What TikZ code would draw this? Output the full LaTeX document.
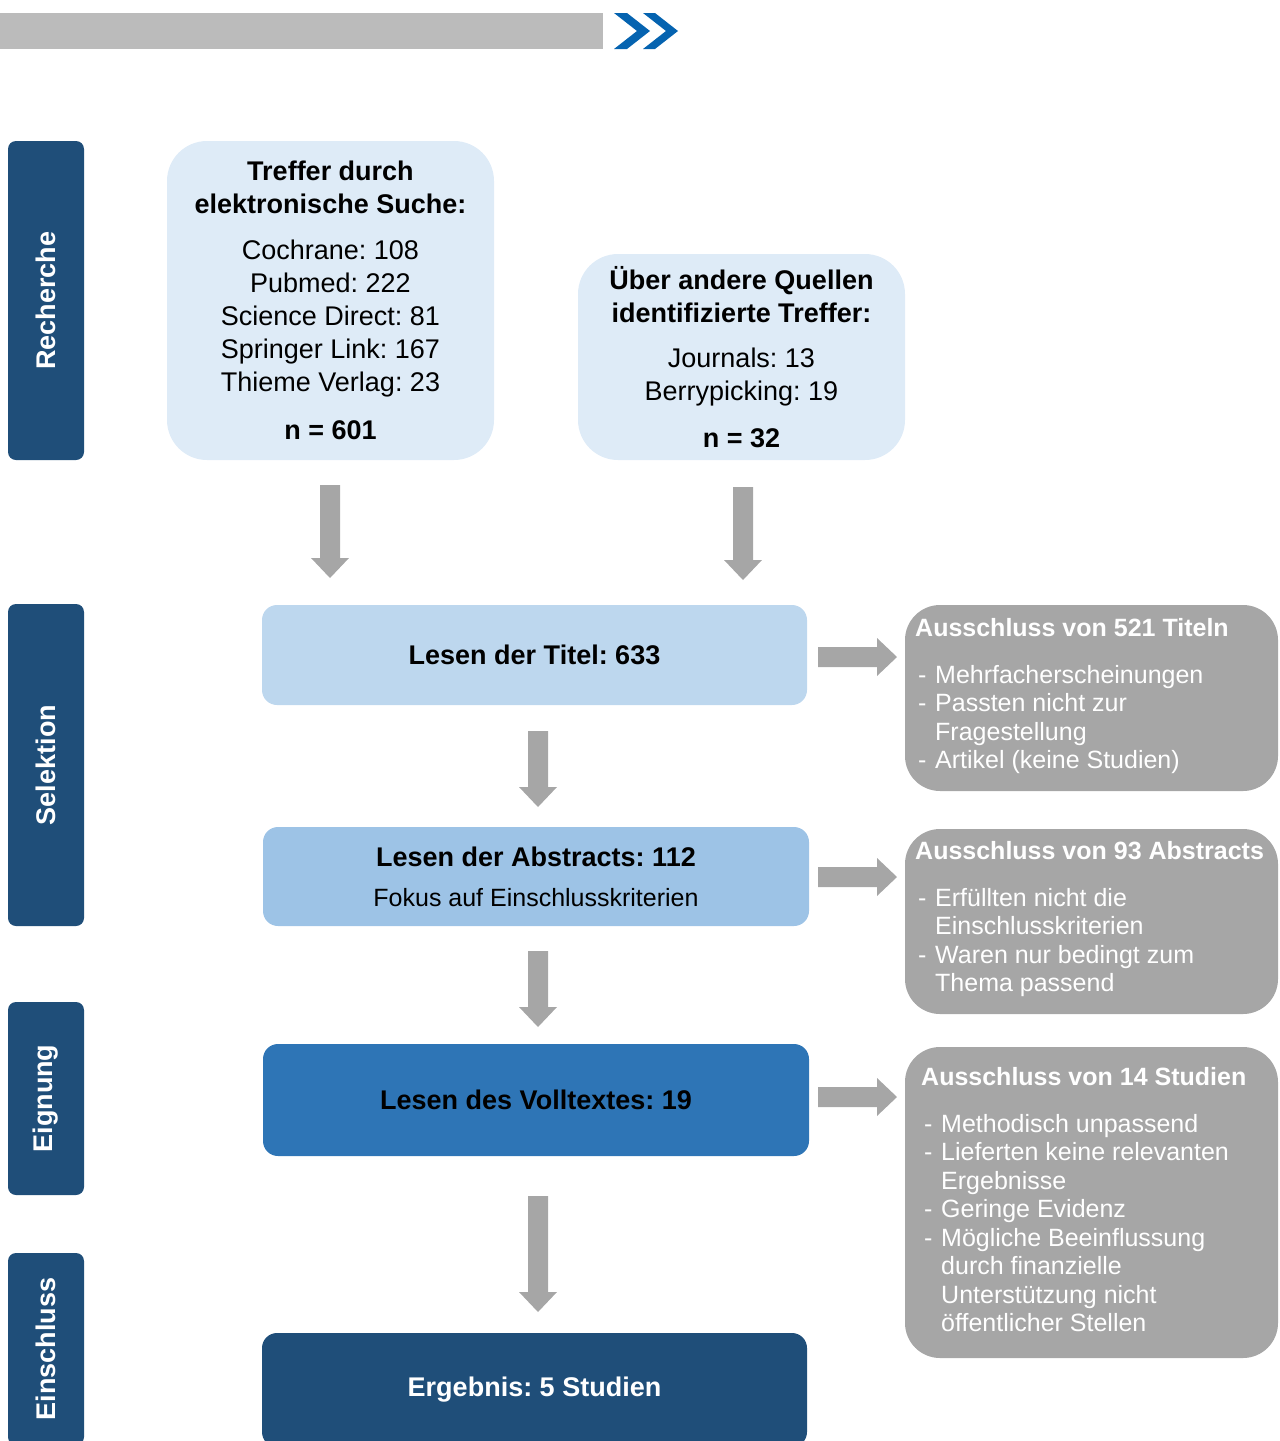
\documentclass[tikz,border=0pt]{standalone}
\usepackage{fontspec}
\setmainfont{Liberation Sans}
\frenchspacing
\usetikzlibrary{calc}
\definecolor{sidebar}{HTML}{1F4E79}
\definecolor{lightbox}{HTML}{DEEBF7}
\definecolor{titlebox}{HTML}{BDD7EE}
\definecolor{abstractbox}{HTML}{9DC3E6}
\definecolor{fullbox}{HTML}{2E75B6}
\definecolor{resultbox}{HTML}{1F4E79}
\definecolor{arrowgray}{HTML}{A6A6A6}
\definecolor{exclgray}{HTML}{A6A6A6}
\definecolor{topbar}{HTML}{BBBBBB}
\definecolor{chevron}{HTML}{0563B0}
\newcommand\fbig{\fontsize{27}{33}\selectfont}
\newcommand\fsmall{\fontsize{25}{28.5}\selectfont}
\newcommand\dashitem[2][20pt]{\makebox[#1][l]{\hspace{3pt}-}#2}
\newcommand\contline[2][20pt]{\hspace*{#1}#2}
\newcommand\blockdown[2]{%
  \fill[arrowgray] ($(#1)+(-10,0)$) -- ($(#2)+(-10,-20)$) -- ($(#2)+(-19,-20)$) -- (#2)
    -- ($(#2)+(19,-20)$) -- ($(#2)+(10,-20)$) -- ($(#1)+(10,0)$) -- cycle;}
\newcommand\blockright[2]{%
  \fill[arrowgray] ($(#1)+(0,-10)$) -- ($(#2)+(-20,-10)$) -- ($(#2)+(-20,-19)$) -- (#2)
    -- ($(#2)+(-20,19)$) -- ($(#2)+(-20,10)$) -- ($(#1)+(0,10)$) -- cycle;}
\tikzset{
  side/.style={fill=sidebar, rounded corners=8pt, minimum height=76pt, text=white,
    font=\fbig\bfseries, inner sep=0pt, rotate=90},
  srcbox/.style={fill=lightbox, rounded corners=40pt, align=center, font=\fbig,
    inner sep=0pt, minimum width=327pt},
  flowbox/.style={rounded corners=15pt, align=center, font=\fbig\bfseries,
    inner sep=0pt, minimum width=546pt},
  exbox/.style={fill=exclgray, rounded corners=35pt, inner sep=0pt, minimum width=373pt},
  extext/.style={text=white, font=\fsmall, align=left, inner sep=0pt, anchor=north west},
}
\begin{document}
\begin{tikzpicture}[x=1pt,y=-1pt]
\useasboundingbox (0,0) rectangle (1280,1441);
\clip (0,0) rectangle (1280,1441);
% top bar
\fill[topbar] (0,13) rectangle (603,49);
\fill[chevron] (614,13) -- (627,13) -- (650,31) -- (627,49) -- (614,49) -- (637,31) -- cycle;
\fill[chevron] (643,13) -- (655,13) -- (678,31) -- (655,49) -- (643,49) -- (666,31) -- cycle;
% sidebars
\node[side, minimum width=319pt] (sRech) at (46,300.5) {Recherche};
\node[side, minimum width=322pt] (sSel) at (46,765) {Selektion};
\node[side, minimum width=193pt] (sEig) at (46,1098.5) {Eignung};
\node[side, minimum width=192pt] (sEin) at (46,1349) {Einschluss};
% source boxes
\node[srcbox, minimum height=319pt] (b1) at (330.5,300.5)
  {\textbf{Treffer durch}\\ \textbf{elektronische Suche:}\\[13pt]
   Cochrane: 108\\ Pubmed: 222\\ Science Direct: 81\\ Springer Link: 167\\ Thieme Verlag: 23\\[15pt]
   \textbf{n = 601}};
\node[srcbox, minimum height=206pt] (b2) at (741.5,357)
  {\textbf{Über andere Quellen}\\ \textbf{identifizierte Treffer:}\\[12pt]
   Journals: 13\\ Berrypicking: 19\\[14pt]
   \textbf{n = 32}};
% flow boxes
\node[flowbox, fill=titlebox, minimum height=100pt, minimum width=545pt] (b3) at (534.5,655)
  {Lesen der Titel: 633};
\node[flowbox, fill=abstractbox, minimum height=99pt] (b4) at (536,876.5)
  {Lesen der Abstracts: 112\\[7pt] {\fsmall\mdseries Fokus auf Einschlusskriterien}};
\node[flowbox, fill=fullbox, minimum height=112pt] (b5) at (536,1100)
  {Lesen des Volltextes: 19};
\node[flowbox, fill=resultbox, text=white, minimum height=114pt, minimum width=545pt] (b6) at (534.5,1390)
  {Ergebnis: 5 Studien};
% exclusion boxes
\node[exbox, minimum height=186pt] (g1) at (1091.5,698) {};
\node[exbox, minimum height=185pt] (g2) at (1091.5,921.5) {};
\node[exbox, minimum height=311pt] (g3) at (1091.5,1202.5) {};
\node[extext] (g1t) at (915,618)
  {\textbf{Ausschluss von 521 Titeln}\\[18.5pt]
   \dashitem{Mehrfacherscheinungen}\\
   \dashitem{Passten nicht zur}\\
   \contline{Fragestellung}\\
   \dashitem{Artikel (keine Studien)}};
\node[extext] (g2t) at (915,841)
  {\textbf{Ausschluss von 93 Abstracts}\\[18.5pt]
   \dashitem{Erfüllten nicht die}\\
   \contline{Einschlusskriterien}\\
   \dashitem{Waren nur bedingt zum}\\
   \contline{Thema passend}};
\node[extext] (g3t) at (921,1067)
  {\textbf{Ausschluss von 14 Studien}\\[18.5pt]
   \dashitem{Methodisch unpassend}\\
   \dashitem{Lieferten keine relevanten}\\
   \contline{Ergebnisse}\\
   \dashitem{Geringe Evidenz}\\
   \dashitem{Mögliche Beeinflussung}\\
   \contline{durch finanzielle}\\
   \contline{Unterstützung nicht}\\
   \contline{öffentlicher Stellen}};
% connector coordinates
\coordinate (d1s) at (330,485);  \coordinate (d1e) at (330,578);
\coordinate (d2s) at (743,487);  \coordinate (d2e) at (743,580);
\coordinate (d3s) at (538,731);  \coordinate (d3e) at (538,807);
\coordinate (d4s) at (538,951);  \coordinate (d4e) at (538,1027);
\coordinate (d5s) at (538,1196); \coordinate (d5e) at (538,1312);
\coordinate (r1s) at (818,657);  \coordinate (r1e) at (897,657);
\coordinate (r2s) at (818,877);  \coordinate (r2e) at (897,877);
\coordinate (r3s) at (818,1097); \coordinate (r3e) at (897,1097);
\blockdown{d1s}{d1e}
\blockdown{d2s}{d2e}
\blockdown{d3s}{d3e}
\blockdown{d4s}{d4e}
\blockdown{d5s}{d5e}
\blockright{r1s}{r1e}
\blockright{r2s}{r2e}
\blockright{r3s}{r3e}
\end{tikzpicture}
\end{document}
